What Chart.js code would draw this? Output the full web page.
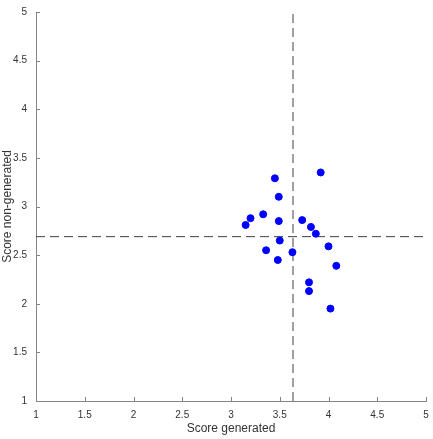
<!DOCTYPE html>
<html>
<head>
<meta charset="utf-8">
<script src="https://cdn.jsdelivr.net/npm/chart.js@4.4.1/dist/chart.umd.min.js"></script>
<style>
  html, body { margin: 0; padding: 0; background: #fff; }
  #wrap { width: 433px; height: 439px; }
</style>
</head>
<body>
<div id="wrap"><canvas id="chart" width="433" height="439"></canvas></div>
<script>
// score pairs
const scoreGenerated = [3.45, 3.92, 3.49, 3.33, 3.2, 3.15, 3.49, 3.73, 3.82, 3.87, 3.5, 4.0, 3.36, 3.63, 3.48, 4.08, 3.8, 3.8, 4.02];
const scoreNonGenerated = [3.29, 3.35, 3.1, 2.92, 2.88, 2.81, 2.85, 2.86, 2.79, 2.72, 2.65, 2.59, 2.55, 2.53, 2.45, 2.39, 2.22, 2.13, 1.95];
const meanGenerated = 3.636;
const meanNonGenerated = 2.69;
const axisMin = 1, axisMax = 5, tickStep = 0.5;

const points = scoreGenerated.map((x, i) => ({ x: x, y: scoreNonGenerated[i] }));

const axisColor = '#858585';
const textColor = '#333';
const font = { family: '"Liberation Sans", Arial, sans-serif', size: 10 };
const titleFont = { family: font.family, size: 12 };
const fmt = v => String(Math.round(v * 10) / 10);

// MATLAB style: short tick marks pointing into the plot
const innerTicks = {
    id: 'innerTicks',
    afterDatasetsDraw(chart) {
        const ctx = chart.ctx;
        const { x, y } = chart.scales;
        ctx.save();
        ctx.strokeStyle = axisColor;
        ctx.lineWidth = 1;
        ctx.beginPath();
        x.ticks.forEach(t => {
            const px = Math.round(x.getPixelForValue(t.value)) + 0.5;
            ctx.moveTo(px, y.bottom);
            ctx.lineTo(px, y.bottom - 4);
        });
        y.ticks.forEach(t => {
            const py = Math.round(y.getPixelForValue(t.value)) + 0.5;
            ctx.moveTo(x.left, py);
            ctx.lineTo(x.left + 4, py);
        });
        ctx.stroke();
        ctx.restore();
    }
};

new Chart(document.getElementById('chart'), {
    type: 'scatter',
    data: {
        datasets: [{
            data: points,
            backgroundColor: '#0000ff',
            borderColor: '#0000ff',
            pointRadius: 3.5,
            pointHoverRadius: 3.5,
            order: 0
        }, {
            type: 'line',
            data: [{ x: meanGenerated, y: axisMin }, { x: meanGenerated, y: axisMax }],
            borderColor: '#404040',
            borderWidth: 1,
            borderDash: [9, 5],
            pointRadius: 0,
            order: 1
        }, {
            type: 'line',
            data: [{ x: axisMin, y: meanNonGenerated }, { x: axisMax, y: meanNonGenerated }],
            borderColor: '#404040',
            borderWidth: 1,
            borderDash: [9, 5],
            pointRadius: 0,
            order: 1
        }]
    },
    options: {
        responsive: false,
        animation: false,
        layout: { padding: { top: 12, right: 7, left: 0, bottom: 0 } },
        plugins: { legend: { display: false }, tooltip: { enabled: false } },
        scales: {
            x: {
                type: 'linear',
                min: axisMin,
                max: axisMax,
                ticks: { stepSize: tickStep, color: textColor, font: font, padding: 8, maxRotation: 0, callback: fmt },
                grid: { display: true, drawOnChartArea: false, drawTicks: false },
                border: { color: axisColor },
                title: { display: true, text: 'Score generated', color: textColor, font: titleFont, padding: { top: 0, bottom: 3 } },
                afterFit(scale) {
                    scale.height = 38;
                    scale.paddingLeft = 0;
                    scale.paddingRight = 0;
                }
            },
            y: {
                type: 'linear',
                min: axisMin,
                max: axisMax,
                ticks: { stepSize: tickStep, color: textColor, font: font, padding: 9, callback: fmt },
                grid: { display: true, drawOnChartArea: false, drawTicks: false },
                border: { color: axisColor },
                title: { display: true, text: 'Score non-generated', color: textColor, font: titleFont, padding: { top: 0, bottom: 0 } },
                afterFit(scale) {
                    scale.width = 36;
                    scale.paddingTop = 0;
                    scale.paddingBottom = 0;
                }
            }
        }
    },
    plugins: [innerTicks]
});
</script>
</body>
</html>
